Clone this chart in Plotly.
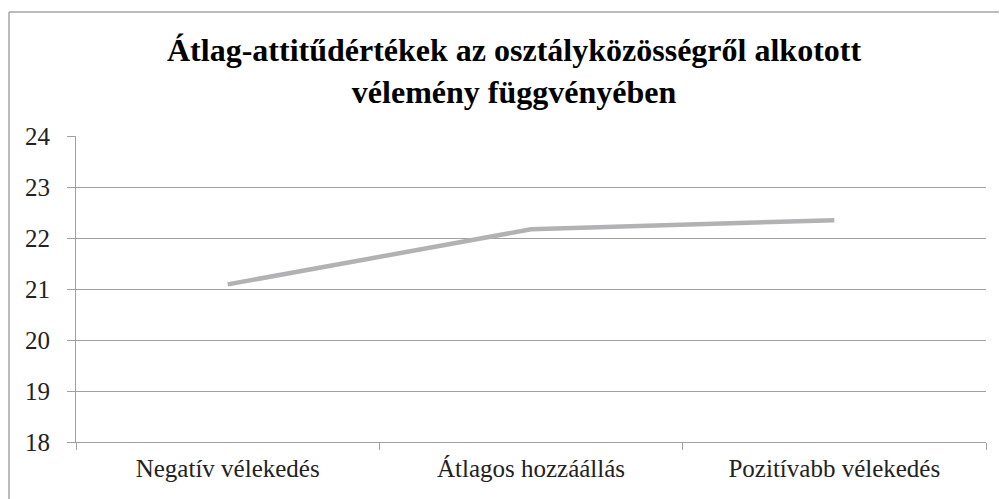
import plotly.graph_objects as go

categories = ["Negatív vélekedés", "Átlagos hozzáállás", "Pozitívabb vélekedés"]
values = [21.09, 22.17, 22.35]
y_ticks = [18, 19, 20, 21, 22, 23, 24]
title_text = "Átlag-attitűdértékek az osztályközösségről alkotott<br>vélemény függvényében"

SERIF = "Liberation Serif, Times New Roman, serif"

# page body has an 8px offset, so the figure is placed in its coordinates
OFF = 8
W, H = 1007 - OFF, 499 - OFF
L, T = 76 - OFF, 136 - OFF
R = 1007 - 986
B = H - (442 - OFF)

pw = W - L - R
ph = H - T - B

def px(x):
    return (x - OFF - L) / pw

def py(y):
    return (H - B - (y - OFF)) / ph

fig = go.Figure()
fig.add_trace(go.Scatter(
    x=categories, y=values, mode="lines",
    line=dict(color="#B2B2B5", width=4.5),
    hoverinfo="skip", showlegend=False,
))

# outer chart border (left and top)
fig.add_shape(type="line", xref="paper", yref="paper",
              x0=px(9), x1=px(9), y0=py(510), y1=py(12),
              line=dict(color="#A6A6A6", width=1.5))
fig.add_shape(type="line", xref="paper", yref="paper",
              x0=px(9), x1=px(1020), y0=py(12), y1=py(12),
              line=dict(color="#A6A6A6", width=1.5))

fig.add_annotation(
    text="<b>" + title_text + "</b>", xref="paper", yref="paper",
    x=px(514), y=py(71), xanchor="center", yanchor="middle",
    showarrow=False, align="center",
    font=dict(family=SERIF, size=32, color="#000000"),
)

fig.update_layout(
    width=W, height=H,
    margin=dict(l=L, r=R, t=T, b=B, pad=0),
    paper_bgcolor="white", plot_bgcolor="white",
    font=dict(family=SERIF, size=24, color="#222222"),
    xaxis=dict(
        type="category", tickson="boundaries", ticks="outside", ticklen=7,
        tickcolor="#A0A0A0", showgrid=False, showline=True, linecolor="#A0A0A0",
        linewidth=1, range=[-0.5, 2.5], tickfont=dict(family=SERIF, size=25, color="#222222"),
        ticklabelstandoff=4, fixedrange=True,
    ),
    yaxis=dict(
        range=[18, 24], tickvals=y_ticks, ticks="outside", ticklen=8,
        tickcolor="#A0A0A0", showgrid=True, gridcolor="#A0A0A0", gridwidth=1,
        showline=True, linecolor="#A0A0A0", linewidth=1, zeroline=False,
        tickfont=dict(family=SERIF, size=25, color="#222222"),
        ticklabelstandoff=12, fixedrange=True,
    ),
)

fig.write_html("out.html")
